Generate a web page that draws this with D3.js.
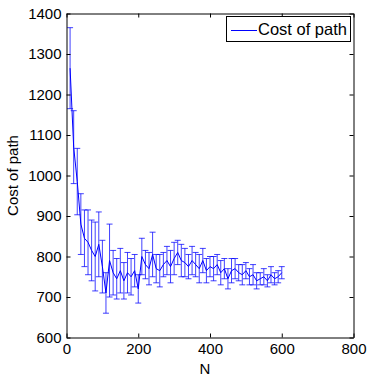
<!DOCTYPE html>
<html>
<head>
<meta charset="utf-8">
<script src="https://cdn.jsdelivr.net/npm/d3@7/dist/d3.min.js"></script>
<style>
html,body{margin:0;padding:0;background:#fff;}
svg{display:block;}
text{font-family:"Liberation Sans",Arial,Helvetica,sans-serif;fill:#000;}
</style>
</head>
<body>
<div id="chart"></div>
<script>
// ---- data ----
const nValues = [10,20,30,40,50,60,70,80,90,100,110,120,130,140,150,160,170,180,190,200,
  210,220,230,240,250,260,270,280,290,300,310,320,330,340,350,360,370,380,390,400,
  410,420,430,440,450,460,470,480,490,500,510,520,530,540,550,560,570,580,590,600];
const costMean = [1265,1070,985,880,845,835,815,800,830,775,710,790,760,745,765,740,760,750,765,720,
  800,780,770,805,770,765,780,790,775,795,810,790,785,775,790,780,770,790,765,775,
  770,780,760,770,745,765,770,760,755,765,750,755,740,745,750,740,755,745,750,760];
const costErr = [100,90,82,75,70,80,75,85,80,65,50,90,55,50,55,45,50,45,40,35,
  45,35,40,55,35,40,30,35,40,40,30,40,35,30,35,30,35,30,30,25,
  30,25,30,25,25,30,25,20,25,20,20,25,20,15,20,15,20,15,15,15];
const xTicks = [0,200,400,600,800];
const yTicks = [600,700,800,900,1000,1100,1200,1300,1400];
const seriesName = "Cost of path";
const xLabel = "N";
const yLabel = "Cost of path";

// ---- layout ----
const W = 369, H = 376;
const L = 66.5, R = 353.5, T = 13.5, B = 337.5;

const svg = d3.select("#chart").append("svg").attr("width", W).attr("height", H);

const x = d3.scaleLinear().domain([0, 800]).range([L, R]);
const y = d3.scaleLinear().domain([600, 1400]).range([B, T]);

const data = nValues.map((n, i) => ({n, m: costMean[i], e: costErr[i]}));

// error bars
const eb = svg.append("g").attr("stroke", "#0000ff").attr("stroke-opacity", 0.75)
  .attr("stroke-width", 1).attr("fill", "none");
const capW = 3;
data.forEach(d => {
  const cx = x(d.n);
  eb.append("line").attr("x1", cx).attr("x2", cx).attr("y1", y(d.m - d.e)).attr("y2", y(d.m + d.e));
  eb.append("line").attr("x1", cx - capW).attr("x2", cx + capW).attr("y1", y(d.m - d.e)).attr("y2", y(d.m - d.e));
  eb.append("line").attr("x1", cx - capW).attr("x2", cx + capW).attr("y1", y(d.m + d.e)).attr("y2", y(d.m + d.e));
});

// line
svg.append("path").datum(data)
  .attr("fill", "none").attr("stroke", "#0000ff").attr("stroke-width", 1)
  .attr("d", d3.line().x(d => x(d.n)).y(d => y(d.m)));

// axes (MATLAB-style box with inward ticks)
const tickLen = 4;
const fs = 15;
const fmt = d3.format("d");
const axB = svg.append("g").attr("transform", `translate(0,${B})`)
  .call(d3.axisBottom(x).tickValues(xTicks).tickFormat(fmt).tickSizeInner(-tickLen).tickSizeOuter(0).tickPadding(6));
const axT = svg.append("g").attr("transform", `translate(0,${T})`)
  .call(d3.axisTop(x).tickValues(xTicks).tickSizeInner(-tickLen).tickSizeOuter(0).tickFormat(""));
const axL = svg.append("g").attr("transform", `translate(${L},0)`)
  .call(d3.axisLeft(y).tickValues(yTicks).tickFormat(fmt).tickSizeInner(-tickLen).tickSizeOuter(0).tickPadding(5));
const axR = svg.append("g").attr("transform", `translate(${R},0)`)
  .call(d3.axisRight(y).tickValues(yTicks).tickSizeInner(-tickLen).tickSizeOuter(0).tickFormat(""));
[axB, axT, axL, axR].forEach(g => {
  g.selectAll("path.domain").attr("stroke", "#000");
  g.selectAll(".tick line").attr("stroke", "#000");
  g.selectAll("text").attr("font-size", fs).attr("font-family", "Liberation Sans, Arial, sans-serif").attr("fill", "#000");
});

// axis labels
svg.append("text").attr("x", 205).attr("y", 374).attr("text-anchor", "middle")
  .attr("font-size", fs).text(xLabel);
svg.append("text").attr("transform", `translate(18,${(T + B) / 2}) rotate(-90)`)
  .attr("text-anchor", "middle").attr("font-size", fs).text(yLabel);

// legend
const lg = svg.append("g");
lg.append("rect").attr("x", 226.5).attr("y", 16.5).attr("width", 124).attr("height", 25)
  .attr("fill", "#fff").attr("stroke", "#000").attr("stroke-width", 1);
lg.append("line").attr("x1", 231).attr("x2", 257).attr("y1", 30.5).attr("y2", 30.5)
  .attr("stroke", "#0000ff").attr("stroke-width", 1);
lg.append("text").attr("x", 258).attr("y", 35).attr("font-size", 16.5).text(seriesName);
</script>
</body>
</html>
